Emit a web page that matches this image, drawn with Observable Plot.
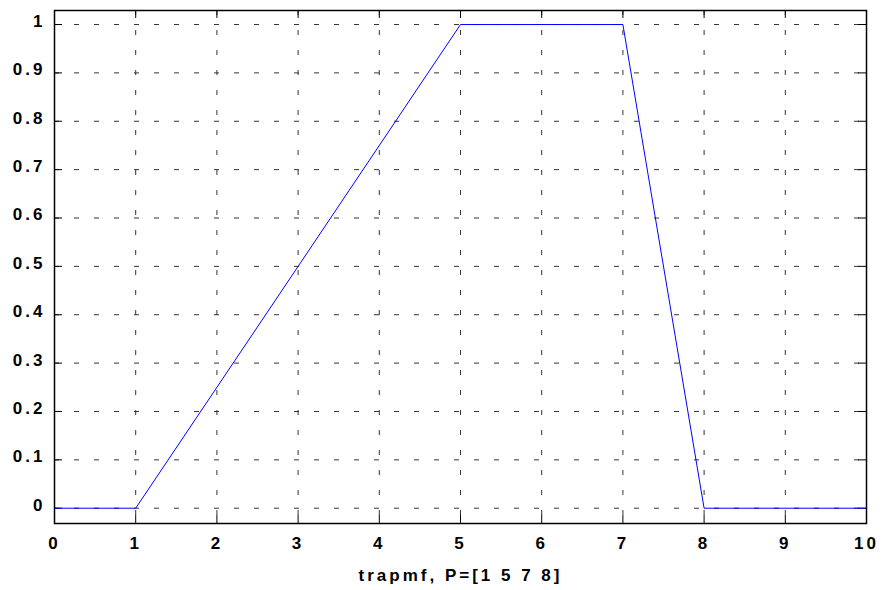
<!DOCTYPE html>
<html>
<head>
<meta charset="utf-8">
<script src="https://cdn.jsdelivr.net/npm/d3@7"></script>
<script src="https://cdn.jsdelivr.net/npm/@observablehq/plot@0.6"></script>
<style>
  html, body { margin: 0; padding: 0; background: #fff; }
  #chart svg { display: block; }
</style>
</head>
<body>
<div id="chart"></div>
<script>
// trapmf with P = [1 5 7 8]
const xValues = [0, 1, 5, 7, 8, 10];
const yValues = [0, 0, 1, 1, 0, 0];
const xTicks = [0, 1, 2, 3, 4, 5, 6, 7, 8, 9, 10];
const yTicks = [0, 0.1, 0.2, 0.3, 0.4, 0.5, 0.6, 0.7, 0.8, 0.9, 1];
const xLabel = "trapmf, P=[1 5 7 8]";

const data = xValues.map((x, i) => ({x, y: yValues[i]}));

const W = 882, H = 590;
const mL = 54, mR = 16, mT = 10, mB = 67;
const plotW = W - mL - mR, plotH = H - mT - mB;
const tickLen = 8;
const font = "'Liberation Sans', Arial, sans-serif";

const chart = Plot.plot({
  width: W,
  height: H,
  marginLeft: mL,
  marginRight: mR,
  marginTop: mT,
  marginBottom: mB,
  style: {fontFamily: font, fontSize: "17px", fontWeight: "bold", background: "#fff", color: "#000"},
  x: {domain: [0, 10]},
  y: {domain: [-0.0316, 1.029]},
  marks: [
    Plot.gridX(xTicks, {stroke: "#333", strokeOpacity: 1, strokeDasharray: "5,15"}),
    Plot.gridY(yTicks, {stroke: "#333", strokeOpacity: 1, strokeDasharray: "5,15"}),
    // inward ticks on all four sides
    Plot.tickX(xTicks, {x: d => d, stroke: "#000", insetTop: plotH - tickLen}),
    Plot.tickX(xTicks, {x: d => d, stroke: "#000", insetBottom: plotH - tickLen}),
    Plot.tickY(yTicks, {y: d => d, stroke: "#000", insetRight: plotW - tickLen}),
    Plot.tickY(yTicks, {y: d => d, stroke: "#000", insetLeft: plotW - tickLen}),
    Plot.line(data, {x: "x", y: "y", stroke: "#0000ff", strokeWidth: 1}),
    Plot.frame({stroke: "#000", strokeWidth: 1.5}),
    Plot.axisX(xTicks, {tickSize: 0, tickPadding: 13, label: null, tickFormat: d => String(d), fontWeight: "bold", fontSize: 17}),
    Plot.axisY(yTicks, {tickSize: 0, tickPadding: 9, label: null, dy: -3, tickFormat: d => String(d), fontWeight: "bold", fontSize: 17}),
    Plot.text([xLabel], {frameAnchor: "bottom", text: d => d, lineAnchor: "top", dy: 45, fontWeight: "bold", fontSize: 17})
  ]
});

d3.select(chart).selectAll("text").style("letter-spacing", "3px");
document.getElementById("chart").appendChild(chart);
</script>
</body>
</html>
